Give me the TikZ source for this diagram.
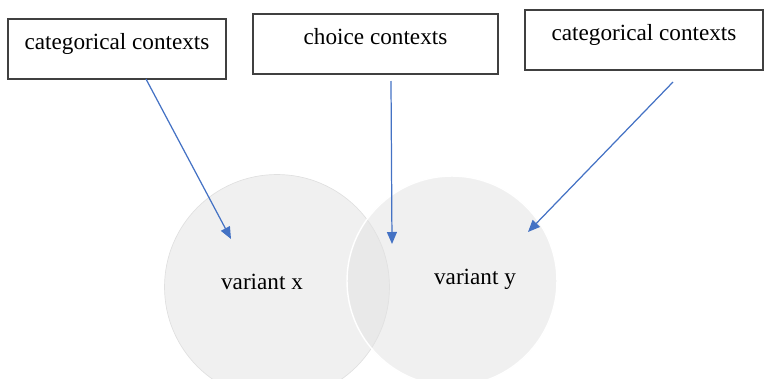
\documentclass[tikz,border=0pt]{standalone}
\usepackage{fontspec}
\setmainfont{Liberation Serif}
\usepackage{tikz}
\usetikzlibrary{arrows.meta, calc}
\definecolor{arrowc}{RGB}{68,114,196}
\definecolor{framec}{RGB}{64,64,64}
\definecolor{blobc}{RGB}{226,226,226}

\tikzset{
  ctxbox/.style={draw=framec, line width=0.8pt, fill=white, minimum height=1.2cm,
    text height=0.25cm, text depth=0.25cm, font=\fontsize{13.2}{16}\selectfont},
  variant/.style={circle, fill=blobc, fill opacity=0.5},
  pointer/.style={arrowc, line width=0.7pt, -{Triangle[length=0.24cm, width=0.2cm]}}
}

\begin{document}
\begin{tikzpicture}[x=0.02cm, y=-0.02cm]
  \useasboundingbox (0,0) rectangle (765,379);
  \clip (0,0) rectangle (765,379);
  % the two overlapping sets
  \node[variant, draw=black!12, minimum size=4.5cm] (vx) at (277,287) {};
  \node[variant, draw=white, line width=0.8pt, minimum size=4.2cm] (vy) at (452,281) {};
  \node[font=\fontsize{13.2}{16}\selectfont] (lx) at (262,282) {variant x};
  \node[font=\fontsize{13.2}{16}\selectfont] (ly) at (475,279) {variant y};
  % context boxes
  \node[ctxbox, minimum width=4.36cm] (cat1) at (117,49) {categorical contexts};
  \node[ctxbox, minimum width=4.9cm] (choice) at (375.5,44) {choice contexts};
  \node[ctxbox, minimum width=4.76cm] (cat2) at (644,40) {categorical contexts};
  % arrow ends
  \coordinate (s1) at (146,79);
  \coordinate (s2) at (391,81);
  \coordinate (s3) at (673,82);
  \coordinate (t1) at (231,239);
  \coordinate (t2) at (392,244);
  \coordinate (t3) at (528,232);
  \draw[pointer] (s1) -- (t1);
  \draw[pointer] (s2) -- (t2);
  \draw[pointer] (s3) -- (t3);
\end{tikzpicture}
\end{document}
